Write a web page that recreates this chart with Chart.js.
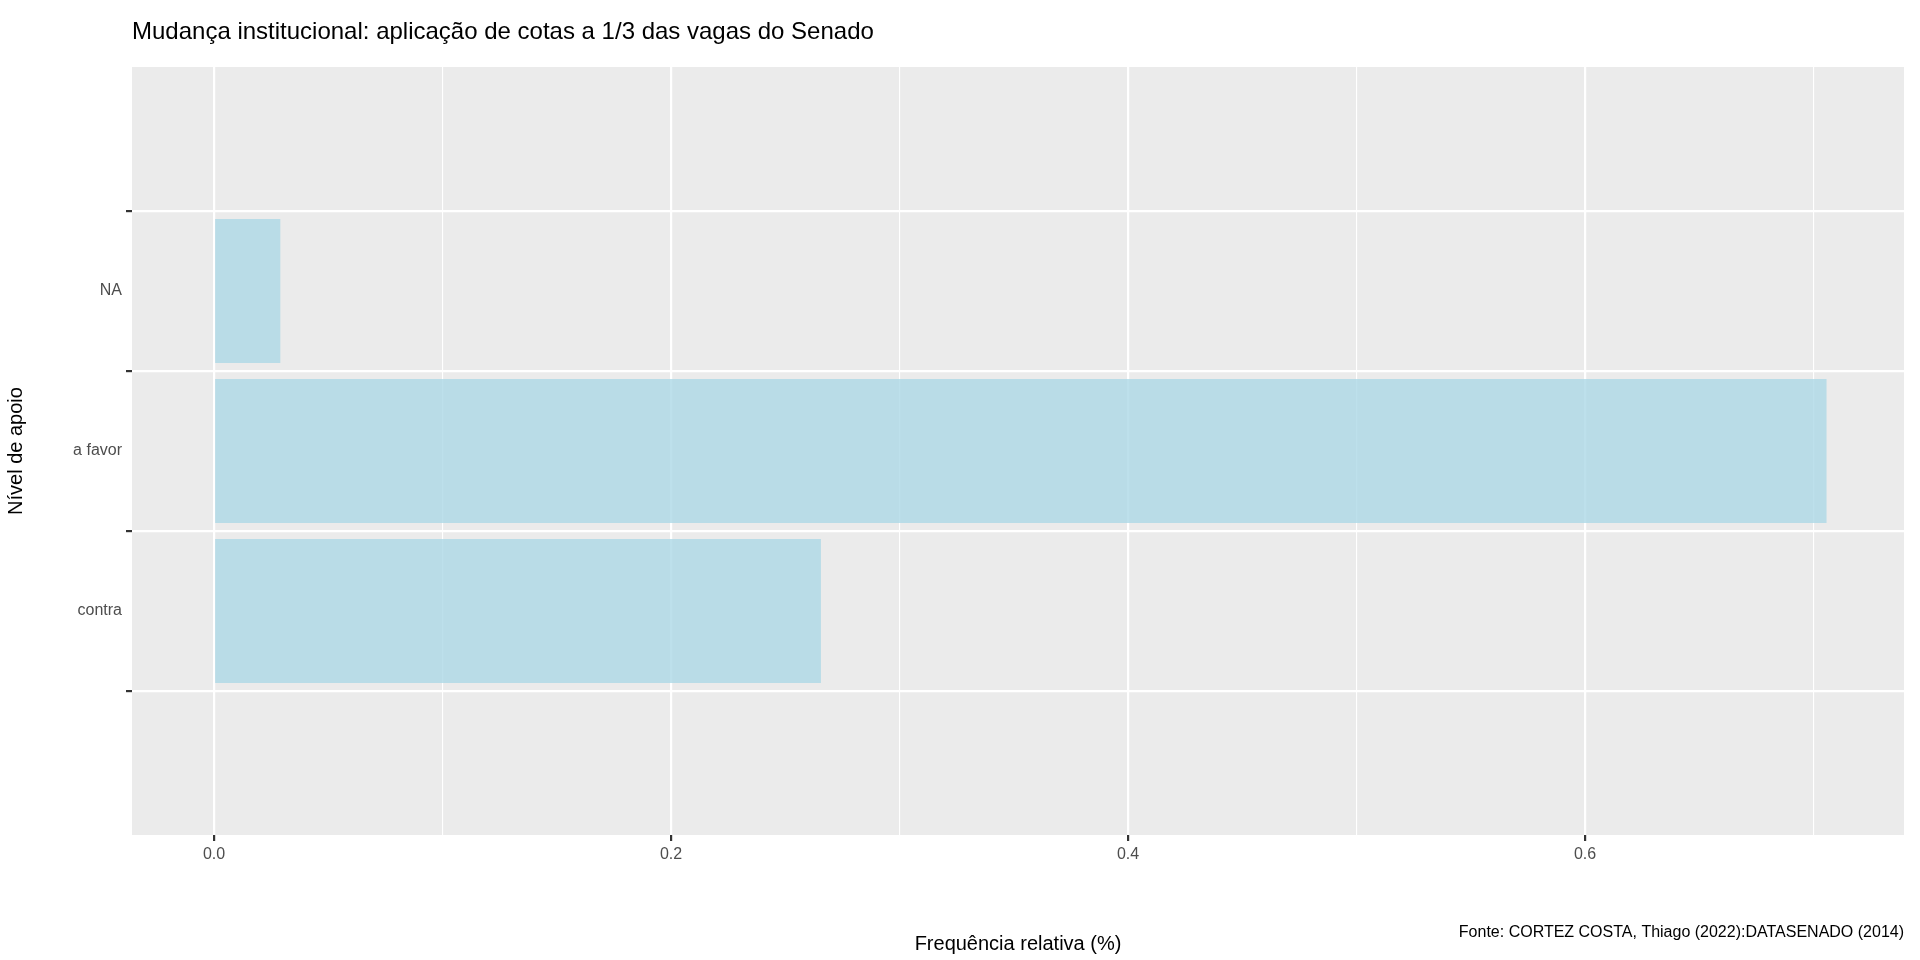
<!DOCTYPE html>
<html><head><meta charset="utf-8">
<script src="https://cdn.jsdelivr.net/npm/chart.js@4"></script>
<style>html,body{margin:0;padding:0;background:#fff;overflow:hidden}</style>
</head><body><canvas id="c" width="1920" height="960" style="width:1920px;height:960px;display:block"></canvas>
<script>
const categories = ["contra", "a favor", "NA"];
const values = [0.2656, 0.7057, 0.029];
const xTicks = [0, 0.1, 0.2, 0.3, 0.4, 0.5, 0.6, 0.7];
const title = "Mudança institucional: aplicação de cotas a 1/3 das vagas do Senado";
const caption = "Fonte: CORTEZ COSTA, Thiago (2022):DATASENADO (2014)";
const F = "'Liberation Sans', Arial, sans-serif";
const isMajor = v => Math.abs(Math.round(v*10) % 2) === 0;
const deco = {
  id:'deco',
  beforeDraw(ch){
    const {ctx, chartArea:a} = ch;
    ctx.save();
    ctx.fillStyle='#fff'; ctx.fillRect(0,0,ch.width,ch.height);
    ctx.fillStyle='#EBEBEB'; ctx.fillRect(a.left,a.top,a.right-a.left,a.bottom-a.top);
    ctx.restore();
  },
  afterDraw(ch){
    const {ctx, chartArea:a} = ch;
    ctx.save();
    ctx.fillStyle='#000'; ctx.textBaseline='middle';
    ctx.font='24px '+F; ctx.textAlign='left'; ctx.fillText(title, a.left, 32);
    ctx.font='16px '+F; ctx.textAlign='right'; ctx.fillText(caption, a.right, 933);
    ctx.restore();
  }
};
new Chart(document.getElementById('c'), {
  type:'bar',
  data:{datasets:[{data: categories.map((c,i)=>({x:values[i], y:i+1})),
    backgroundColor:'rgba(173,216,230,0.8)', borderWidth:0,
    barPercentage:0.9, categoryPercentage:1}]},
  options:{
    indexAxis:'y', responsive:false, animation:false, devicePixelRatio:1,
    layout:{padding:{top:67,right:16,left:0,bottom:0}},
    plugins:{legend:{display:false},tooltip:{enabled:false}},
    scales:{
      x:{type:'linear', min:-0.0359, max:0.7396,
        afterBuildTicks(s){s.ticks = xTicks.map(v=>({value:v}));},
        afterFit(s){s.height=125;},
        border:{display:false},
        grid:{color:'#fff', lineWidth:c=>isMajor(c.tick.value)?2.2:1.1,
          tickColor:c=>isMajor(c.tick.value)?'#333':'rgba(0,0,0,0)', tickLength:6, drawTicks:true},
        ticks:{callback:v=>isMajor(v)?v.toFixed(1):'', color:'#4d4d4d', font:{size:16,family:F}, padding:4, maxRotation:0, autoSkip:false},
        title:{display:true, text:'Frequência relativa (%)', color:'#000', font:{size:20,family:F}, padding:{top:6}}
      },
      y:{type:'linear', min:0.4, max:3.6,
        afterBuildTicks(s){s.ticks = categories.map((c,i)=>({value:i+1}));},
        afterFit(s){s.width=132;},
        border:{display:false},
        grid:{color:'#fff', lineWidth:2.2, tickColor:'#333', tickLength:6},
        ticks:{callback:v=>categories[Math.round(v)-1]||'', color:'#4d4d4d', font:{size:16,family:F}, padding:4, autoSkip:false},
        title:{display:true, text:'Nível de apoio', color:'#000', font:{size:20,family:F}, padding:{bottom:4}}
      }
    }
  },
  plugins:[deco]
});
</script></body></html>
